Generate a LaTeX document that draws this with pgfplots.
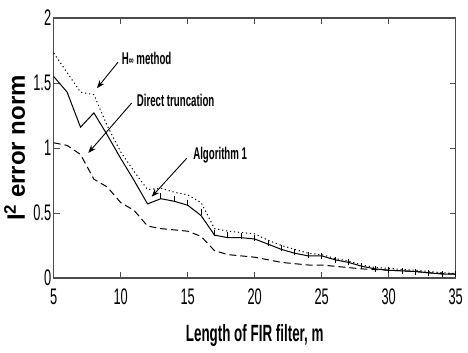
\documentclass[border=0pt]{standalone}
\usepackage{fontspec}
\setmainfont[FakeStretch=0.57]{Liberation Sans}
\newfontfamily\yfont{Liberation Sans}
\usepackage{pgfplots}
\pgfplotsset{compat=1.18}
\usetikzlibrary{arrows.meta}
\begin{document}
\begin{tikzpicture}
\useasboundingbox (-53.7pt,-75pt) rectangle (414.3pt,278pt);
\begin{axis}[at={(0,0)}, anchor=south west, scale only axis,
  width=402pt, height=260pt,
  xmin=5, xmax=35, ymin=0, ymax=2,
  xtick={5,10,...,35}, ytick={0,0.5,1,1.5,2},
  tick align=inside, major tick length=6pt,
  axis line style={black!70, line width=1.1pt},
  every tick/.style={black!70, line width=0.9pt},
  tick label style={font=\fontsize{22.5}{24}\selectfont},
  /pgf/number format/assume math mode=true,
  xticklabel style={yshift=-7pt},
  yticklabel style={xshift=1pt},
  every axis x label/.style={at={(axis description cs:0.5,-0.245)}, anchor=base,
     font=\fontsize{23.5}{26}\selectfont\bfseries},
  every axis y label/.style={at={(axis description cs:-0.0714,0.5)}, rotate=90, anchor=base,
     font=\yfont\fontsize{24}{26}\selectfont\bfseries},
  xlabel={Length of FIR filter, m},
  ylabel={l\textsuperscript{2} error norm},
  clip=false,
]
% H-infinity method (dotted)
\addplot[black, line width=1pt, dash pattern=on 1.2pt off 2.8pt] coordinates {
(5,1.73) (6,1.58) (7,1.43) (8,1.41) (9,1.17) (10,0.97) (11,0.82) (12,0.68)
(13,0.69) (14,0.66) (15,0.64) (16,0.58) (17,0.38) (18,0.36) (19,0.35) (20,0.34)
(21,0.29) (22,0.25) (23,0.22) (24,0.19) (25,0.18) (26,0.15) (27,0.13) (28,0.10)
(29,0.08) (30,0.075) (31,0.065) (32,0.06) (33,0.05) (34,0.04) (35,0.035)};
% Algorithm 1 (solid)
\addplot[black, line width=1pt] coordinates {
(5,1.55) (6,1.43) (7,1.16) (8,1.27) (9,1.10) (10,0.92) (11,0.75) (12,0.57)
(13,0.61) (14,0.59) (15,0.56) (16,0.48) (17,0.33) (18,0.31) (19,0.31) (20,0.30)
(21,0.26) (22,0.22) (23,0.19) (24,0.17) (25,0.17) (26,0.14) (27,0.12) (28,0.09)
(29,0.07) (30,0.06) (31,0.055) (32,0.05) (33,0.04) (34,0.03) (35,0.03)};
\addplot[black, only marks, mark=|, mark size=3pt, mark options={line width=0.9pt}] coordinates {
(13,0.63) (14,0.61) (15,0.58) (16,0.51) (17,0.35) (18,0.33) (19,0.32) (20,0.31)
(21,0.27) (22,0.23) (23,0.20) (24,0.18) (25,0.17) (26,0.14) (27,0.12) (28,0.09)
(29,0.07) (30,0.06) (31,0.055) (32,0.05) (33,0.04) (34,0.03) (35,0.03)};
% Direct truncation (dashed)
\addplot[black, line width=1pt, dash pattern=on 7pt off 4pt] coordinates {
(5,1.04) (6,1.02) (7,0.95) (8,0.76) (9,0.70) (10,0.58) (11,0.52) (12,0.40)
(13,0.38) (14,0.37) (15,0.36) (16,0.32) (17,0.21) (18,0.18) (19,0.17) (20,0.16)
(21,0.14) (22,0.12) (23,0.11) (24,0.10) (25,0.10) (26,0.09) (27,0.08) (28,0.07)
(29,0.065) (30,0.06) (31,0.055) (32,0.05) (33,0.04) (34,0.035) (35,0.03)};
% annotations
\node[anchor=west, inner sep=0pt, font=\fontsize{17}{19}\selectfont\bfseries]
  at (axis cs:10.07,1.692) {H{\fontsize{12}{14}\selectfont ∞} method};
\draw[black, line width=0.9pt, -{Stealth[length=8pt,width=6pt]}] (axis cs:9.8,1.66) -- (axis cs:8.23,1.46);
\node[anchor=west, inner sep=0pt, font=\fontsize{17}{19}\selectfont\bfseries]
  at (axis cs:11.19,1.369) {Direct truncation};
\draw[black, line width=0.9pt, -{Stealth[length=8pt,width=6pt]}] (axis cs:10.82,1.346) -- (axis cs:7.58,0.962);
\node[anchor=west, inner sep=0pt, font=\fontsize{17}{19}\selectfont\bfseries]
  at (axis cs:15.4,0.946) {Algorithm 1};
\draw[black, line width=0.9pt, -{Stealth[length=8pt,width=6pt]}] (axis cs:14.93,0.921) -- (axis cs:12.31,0.625);
\end{axis}
\end{tikzpicture}
\end{document}
